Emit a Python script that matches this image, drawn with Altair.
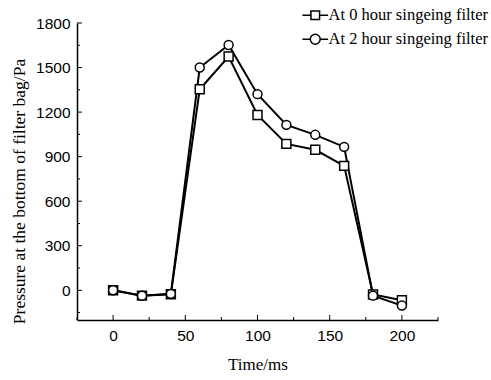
import altair as alt
import pandas as pd

time_ms = [0, 20, 40, 60, 80, 100, 120, 140, 160, 180, 200]
p_0h = [0, -36, -27, 1354, 1574, 1181, 986, 946, 838, -28, -67]
p_2h = [0, -36, -24, 1500, 1652, 1321, 1114, 1047, 966, -36, -103]
series_names = ["At 0 hour singeing filter", "At 2 hour singeing filter"]

x_major = [0, 50, 100, 150, 200]
x_minor = [-25, 25, 75, 125, 175, 225]
y_major = [0, 300, 600, 900, 1200, 1500, 1800]
y_minor = [-150, 150, 450, 750, 1050, 1350, 1650]

rows = []
for name, vals in zip(series_names, [p_0h, p_2h]):
    for t, v in zip(time_ms, vals):
        rows.append({"t": t, "p": v, "series": name})
df = pd.DataFrame(rows)

W, H = 361, 297
xs = alt.Scale(domain=[-25, 225], nice=False, zero=False)
ys = alt.Scale(domain=[-200, 1800], nice=False, zero=False)

SANS = "Liberation Sans"
SERIF = "Liberation Serif"

x_axis = alt.Axis(values=x_major, ticks=False, grid=False, format="d", labelFont=SANS, labelFontSize=15.5,
                  labelColor="black", labelPadding=8, domainColor="black", domainWidth=1.5,
                  title="Time/ms", titleFont=SERIF, titleFontSize=17, titleFontWeight="normal",
                  titleColor="black", titlePadding=13)
y_axis = alt.Axis(values=y_major, ticks=False, grid=False, format="d", labelFont=SANS, labelFontSize=15.5,
                  labelColor="black", labelPadding=7, domainColor="black", domainWidth=1.5,
                  title="Pressure at the bottom of filter bag/Pa", titleFont=SERIF,
                  titleFontSize=17.5, titleFontWeight="normal", titleColor="black", titlePadding=7,
                  titleY=168, titleAnchor="middle", titleAlign="center")

base = alt.Chart(df)

lines = base.mark_line(color="black", strokeWidth=2).encode(
    x=alt.X("t:Q", scale=xs, axis=x_axis),
    y=alt.Y("p:Q", scale=ys, axis=y_axis),
    detail="series:N",
)

points = base.mark_point(filled=True, fill="white", stroke="black", strokeWidth=1.5, size=80, opacity=1).encode(
    x=alt.X("t:Q", scale=xs),
    y=alt.Y("p:Q", scale=ys),
    shape=alt.Shape("series:N", scale=alt.Scale(domain=series_names, range=["square", "circle"]), legend=None),
)

sq_path = "M-2.85,0L-0.96,0M0.96,0L2.85,0M-0.96,-0.96L0.96,-0.96L0.96,0.96L-0.96,0.96Z"
ci_path = "M-2.85,0L-1.1,0M1.1,0L2.85,0M-1.1,0A1.1,1.1,0,1,0,1.1,0A1.1,1.1,0,1,0,-1.1,0Z"

legend_layer = base.transform_filter("false").mark_point(filled=False, stroke="black", color="black", strokeWidth=1.5).encode(
    x=alt.X("t:Q", scale=xs),
    y=alt.Y("p:Q", scale=ys),
    shape=alt.Shape("series:N", scale=alt.Scale(domain=series_names, range=[sq_path, ci_path]),
                    legend=alt.Legend(title=None, orient="none", legendX=230, legendY=-16,
                                      labelFont=SERIF, labelFontSize=16.5, labelColor="black",
                                      symbolSize=81, symbolStrokeColor="black", symbolFillColor="white",
                                      symbolStrokeWidth=1.5, symbolOpacity=1, labelOffset=5,
                                      rowPadding=7, padding=0)),
)

xt_major = pd.DataFrame({"v": x_major})
xt_minor = pd.DataFrame({"v": x_minor})
yt_major = pd.DataFrame({"v": y_major})
yt_minor = pd.DataFrame({"v": y_minor})

xtm = alt.Chart(xt_major).mark_rule(color="black", strokeWidth=1).encode(
    x=alt.X("v:Q", scale=xs), y=alt.value(H), y2=alt.value(H - 5))
xtn = alt.Chart(xt_minor).mark_rule(color="black", strokeWidth=1).encode(
    x=alt.X("v:Q", scale=xs), y=alt.value(H), y2=alt.value(H - 3))
ytm = alt.Chart(yt_major).mark_rule(color="black", strokeWidth=1).encode(
    y=alt.Y("v:Q", scale=ys), x=alt.value(0), x2=alt.value(5))
ytn = alt.Chart(yt_minor).mark_rule(color="black", strokeWidth=1).encode(
    y=alt.Y("v:Q", scale=ys), x=alt.value(0), x2=alt.value(3))

chart = alt.layer(xtm, xtn, ytm, ytn, lines, points, legend_layer).resolve_scale(
    shape="independent"
).properties(
    width=W, height=H,
    autosize=alt.AutoSizeParams(type="none"),
    padding={"left": 77, "top": 23, "right": 53, "bottom": 60},
    background="white",
).configure_view(stroke=None)

chart.save("out.html", embed_options={"renderer": "svg", "actions": False})
